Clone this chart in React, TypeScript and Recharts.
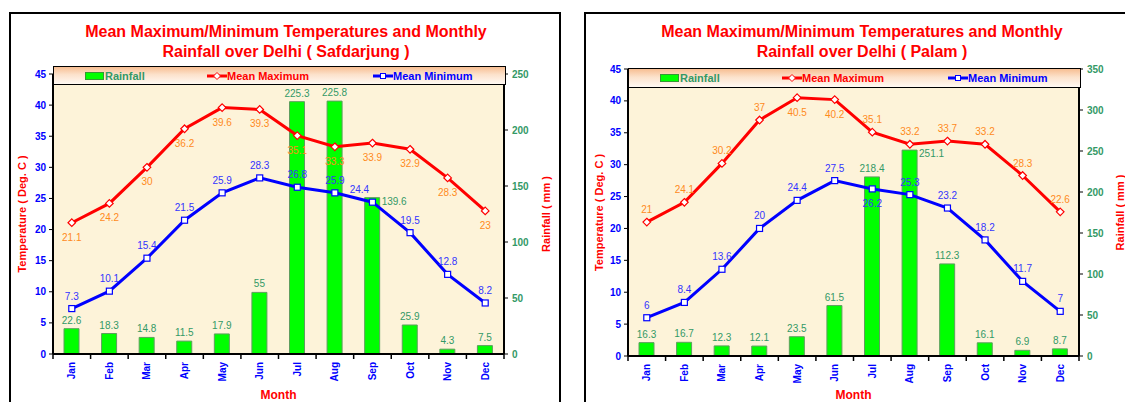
import React from 'react';
import { ComposedChart, Bar, Line, XAxis, YAxis, CartesianGrid, LabelList, Legend } from 'recharts';

const FONT = '"Liberation Sans", Arial, Helvetica, sans-serif';

const months = ['Jan', 'Feb', 'Mar', 'Apr', 'May', 'Jun', 'Jul', 'Aug', 'Sep', 'Oct', 'Nov', 'Dec'];

// Safdarjung
const sfdMax = [21.1, 24.2, 30, 36.2, 39.6, 39.3, 35.1, 33.3, 33.9, 32.9, 28.3, 23];
const sfdMin = [7.3, 10.1, 15.4, 21.5, 25.9, 28.3, 26.8, 25.9, 24.4, 19.5, 12.8, 8.2];
const sfdRain = [22.6, 18.3, 14.8, 11.5, 17.9, 55, 225.3, 225.8, 139.6, 25.9, 4.3, 7.5];

// Palam
const plmMax = [21, 24.1, 30.2, 37, 40.5, 40.2, 35.1, 33.2, 33.7, 33.2, 28.3, 22.6];
const plmMin = [6, 8.4, 13.6, 20, 24.4, 27.5, 26.2, 25.3, 23.2, 18.2, 11.7, 7];
const plmRain = [16.3, 16.7, 12.3, 12.1, 23.5, 61.5, 218.4, 251.1, 112.3, 16.1, 6.9, 8.7];

const tempTicks = [0, 5, 10, 15, 20, 25, 30, 35, 40, 45];
const sfdRainTicks = [0, 50, 100, 150, 200, 250];
const plmRainTicks = [0, 50, 100, 150, 200, 250, 300, 350];

// label placements
const sfdMaxPos = ['b', 'b', 'b', 'b', 'b', 'b', 'b', 'b', 'b', 'b', 'b', 'b'];
const sfdMinPos = ['t', 't', 't', 't', 't', 't', 't', 't', 'tl', 't', 't', 't'];
const sfdRainPos = ['t', 't', 't', 't', 't', 't', 't', 't', 'r', 't', 't', 't'];
const plmMaxPos = ['t', 't', 't', 't', 'b', 'b', 't', 't', 't', 't', 't', 't'];
const plmMinPos = ['t', 't', 't', 't', 't', 't', 'b', 't', 't', 't', 't', 't'];
const plmRainPos = ['t', 't', 't', 't', 't', 't', 't', 'r', 't', 't', 't', 't'];

const build = (mx: number[], mn: number[], rn: number[]) =>
  months.map((m, i) => ({ month: m, max: mx[i], min: mn[i], rain: rn[i] }));

const makeLabel = (fill: string, positions: string[], kind: 'bar' | 'line') => (props: any) => {
  const { x, y, width, value, index } = props;
  if (x == null || y == null) return null;
  const pos = positions[index] || 't';
  const cx = kind === 'bar' ? x + width / 2 : x;
  let tx = cx;
  let ty = y;
  if (kind === 'bar') {
    if (pos === 'r') { tx = cx + 22; ty = y + 7; } else { ty = y - 5; }
  } else {
    if (pos === 'b') ty = y + 18;
    else if (pos === 'tl') { tx = cx - 13; ty = y - 9; }
    else ty = y - 9;
  }
  return (
    <text key={`l-${kind}-${index}`} x={tx} y={ty} textAnchor="middle" fill={fill} fontSize={10} fontFamily={FONT}>
      {value}
    </text>
  );
};

const Diamond = (p: any) => {
  const { cx, cy, index } = p;
  if (cx == null || cy == null) return <g key={`d-${index}`} />;
  const r = 3.8;
  return (
    <path key={`d-${index}`} d={`M${cx},${cy - r}L${cx + r},${cy}L${cx},${cy + r}L${cx - r},${cy}Z`} fill="#fff" stroke="#FF0000" strokeWidth={1.2} />
  );
};

const Square = (p: any) => {
  const { cx, cy, index } = p;
  if (cx == null || cy == null) return <g key={`s-${index}`} />;
  return <rect key={`s-${index}`} x={cx - 3} y={cy - 3} width={6} height={6} fill="#fff" stroke="#0000FF" strokeWidth={1.2} />;
};

const MonthTick = (props: any) => {
  const { x, y, payload, index, visibleTicksCount } = props;
  const half = payload && payload.offset ? payload.offset : 451 / 24;
  const last = index === (visibleTicksCount || 12) - 1;
  return (
    <g>
      <line x1={x - half} x2={x - half} y1={y} y2={y + 5} stroke="#000" strokeWidth={1.5} />
      {last && <line x1={x + half} x2={x + half} y1={y} y2={y + 5} stroke="#000" strokeWidth={1.5} />}
      <text
        x={x}
        y={y + 8}
        transform={`rotate(-90, ${x}, ${y + 8})`}
        textAnchor="end"
        dominantBaseline="central"
        fill="#0000FF"
        fontSize={10}
        fontWeight="bold"
        fontFamily={FONT}
      >
        {payload.value}
      </text>
    </g>
  );
};

const AxisTitle = (props: any) => {
  const { viewBox, px, text, fallbackY } = props;
  const cy = viewBox && viewBox.height ? viewBox.y + viewBox.height / 2 : fallbackY;
  return (
    <text
      x={px}
      y={cy}
      transform={`rotate(-90, ${px}, ${cy})`}
      textAnchor="middle"
      dominantBaseline="central"
      fill="#FF0000"
      fontSize={11}
      fontWeight="bold"
      fontFamily={FONT}
    >
      {text}
    </text>
  );
};

const LineIcon = ({ color, marker }: { color: string; marker: 'diamond' | 'square' }) => (
  <svg width={20} height={10} style={{ display: 'block' }}>
    <line x1={0} x2={20} y1={5} y2={5} stroke={color} strokeWidth={3} />
    {marker === 'diamond' ? (
      <path d="M10,1.5L13.5,5L10,8.5L6.5,5Z" fill="#fff" stroke={color} strokeWidth={1} />
    ) : (
      <rect x={7.5} y={2.5} width={5} height={5} fill="#fff" stroke={color} strokeWidth={1} />
    )}
  </svg>
);

const LegendBox = () => (
  <div
    style={{
      width: '100%',
      height: '100%',
      boxSizing: 'border-box',
      border: '1.5px solid #000',
      background: 'linear-gradient(to bottom, #F7BE92 0%, #FCE2CC 45%, #FFF9F3 100%)',
      position: 'relative',
      fontFamily: FONT,
      fontWeight: 'bold',
      fontSize: 11,
    }}
  >
    <div style={{ position: 'absolute', left: 31, top: 0, bottom: 0, display: 'flex', alignItems: 'center', color: '#339966' }}>
      <div style={{ width: 17, height: 6, background: '#00FF00', border: '1px solid #339933', marginRight: 1 }} />
      Rainfall
    </div>
    <div style={{ position: 'absolute', left: 153, top: 0, bottom: 0, display: 'flex', alignItems: 'center', color: '#FF0000' }}>
      <LineIcon color="#FF0000" marker="diamond" />
      Mean Maximum
    </div>
    <div style={{ position: 'absolute', left: 319, top: 0, bottom: 0, display: 'flex', alignItems: 'center', color: '#0000FF' }}>
      <LineIcon color="#0000FF" marker="square" />
      Mean Minimum
    </div>
  </div>
);

type PanelProps = {
  data: any[];
  rainTicks: number[];
  rainMax: number;
  left: number;
  width: number;
  marginTop: number;
  xAxisHeight: number;
  rightW: number;
  legendTop: number;
  legendHeight: number;
  tempTitleX: number;
  rainTitleX: number;
  maxPos: string[];
  minPos: string[];
  rainPos: string[];
};

const Panel = (p: PanelProps) => {
  const plotH = 402 - p.marginTop - p.xAxisHeight;
  const fy = p.marginTop + plotH / 2;
  return (
    <div style={{ position: 'absolute', left: p.left, top: 0 }}>
      <ComposedChart
        width={p.width}
        height={402}
        data={p.data}
        margin={{ top: p.marginTop, right: 0, bottom: 0, left: 0 }}
        barCategoryGap={0}
      >
        <CartesianGrid horizontal={false} vertical={false} fill="#FDF3D9" yAxisId="temp" />
        <XAxis
          dataKey="month"
          height={p.xAxisHeight}
          tickLine={false}
          tickSize={0}
          tickMargin={0}
          interval={0}
          axisLine={{ stroke: '#000', strokeWidth: 2 }}
          tick={<MonthTick />}
          label={{ value: 'Month', position: 'insideBottom', offset: 3, fill: '#FF0000', fontSize: 12, fontWeight: 'bold', fontFamily: FONT }}
        />
        <YAxis
          yAxisId="temp"
          orientation="left"
          width={53}
          domain={[0, 45]}
          ticks={tempTicks}
          interval={0}
          allowDataOverflow
          tickSize={4}
          tickMargin={3}
          axisLine={{ stroke: '#000', strokeWidth: 2 }}
          tickLine={{ stroke: '#000', strokeWidth: 1 }}
          tick={{ fill: '#0000FF', fontSize: 10, fontWeight: 'bold', fontFamily: FONT }}
          label={<AxisTitle px={p.tempTitleX} text="Temperature ( Deg. C )" fallbackY={fy} />}
        />
        <YAxis
          yAxisId="rain"
          orientation="right"
          width={p.rightW}
          domain={[0, p.rainMax]}
          ticks={p.rainTicks}
          interval={0}
          allowDataOverflow
          tickSize={4}
          tickMargin={4}
          axisLine={{ stroke: '#000', strokeWidth: 2 }}
          tickLine={{ stroke: '#000', strokeWidth: 1 }}
          tick={{ fill: '#339966', fontSize: 10, fontWeight: 'bold', fontFamily: FONT, textAnchor: 'start' }}
          label={<AxisTitle px={p.rainTitleX} text="Rainfall ( mm )" fallbackY={fy} />}
        />
        <Legend
          verticalAlign="middle"
          align="center"
          layout="horizontal"
          content={() => <LegendBox />}
          wrapperStyle={{ left: 53, top: p.legendTop, width: 453, height: p.legendHeight }}
        />
        <Bar yAxisId="rain" dataKey="rain" name="Rainfall" fill="#00FF00" stroke="#5E9E5E" strokeWidth={1} barSize={15} isAnimationActive={false}>
          <LabelList dataKey="rain" content={makeLabel('#339966', p.rainPos, 'bar')} />
        </Bar>
        <Line
          yAxisId="temp"
          dataKey="max"
          name="Mean Maximum"
          stroke="#FF0000"
          strokeWidth={3}
          dot={(d: any) => <Diamond key={`dm-${d.index}`} {...d} />}
          activeDot={false}
          isAnimationActive={false}
        >
          <LabelList dataKey="max" content={makeLabel('#FF8A1C', p.maxPos, 'line')} />
        </Line>
        <Line
          yAxisId="temp"
          dataKey="min"
          name="Mean Minimum"
          stroke="#0000FF"
          strokeWidth={3}
          dot={(d: any) => <Square key={`dn-${d.index}`} {...d} />}
          activeDot={false}
          isAnimationActive={false}
        >
          <LabelList dataKey="min" content={makeLabel('#3333FF', p.minPos, 'line')} />
        </Line>
      </ComposedChart>
    </div>
  );
};

const Title = ({ left, width, station }: { left: number; width: number; station: string }) => (
  <div
    style={{
      position: 'absolute',
      left,
      top: 22,
      width,
      textAlign: 'center',
      color: '#FF0000',
      fontFamily: FONT,
      fontWeight: 'bold',
      fontSize: 16,
      lineHeight: '20px',
    }}
  >
    Mean Maximum/Minimum Temperatures and Monthly
    <br />
    {`Rainfall over Delhi ( ${station} )`}
  </div>
);

export default function App() {
  return (
    <div
      style={{
        position: 'absolute',
        left: 0,
        top: 0,
        width: 1125,
        height: 402,
        overflow: 'hidden',
        background: '#fff',
        fontFamily: FONT,
      }}
    >
      <div style={{ position: 'absolute', left: 9, top: 12, width: 552, height: 410, border: '2px solid #000', boxSizing: 'border-box' }} />
      <div style={{ position: 'absolute', left: 584, top: 12, width: 600, height: 410, border: '2px solid #000', boxSizing: 'border-box' }} />
      <Title left={9} width={554} station="Safdarjung" />
      <Title left={584} width={556} station="Palam" />
      <Panel
        data={build(sfdMax, sfdMin, sfdRain)}
        rainTicks={sfdRainTicks}
        rainMax={250}
        left={0}
        width={561}
        marginTop={74}
        xAxisHeight={48}
        rightW={57}
        legendTop={66}
        legendHeight={19}
        tempTitleX={22}
        rainTitleX={546}
        maxPos={sfdMaxPos}
        minPos={sfdMinPos}
        rainPos={sfdRainPos}
      />
      <Panel
        data={build(plmMax, plmMin, plmRain)}
        rainTicks={plmRainTicks}
        rainMax={350}
        left={575}
        width={550}
        marginTop={69}
        xAxisHeight={46}
        rightW={46}
        legendTop={68}
        legendHeight={20}
        tempTitleX={24}
        rainTitleX={545}
        maxPos={plmMaxPos}
        minPos={plmMinPos}
        rainPos={plmRainPos}
      />
    </div>
  );
}
